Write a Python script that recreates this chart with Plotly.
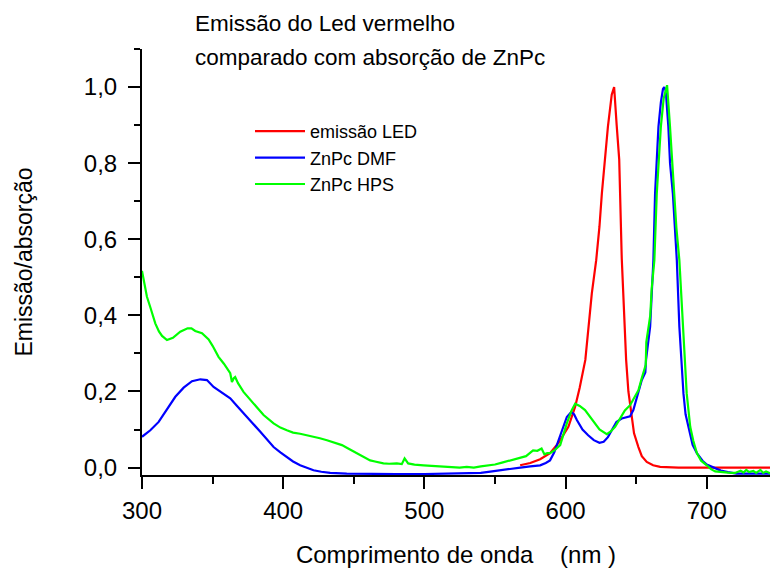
import plotly.graph_objects as go

# ---- data ----
led_nm = [567.8, 575, 582, 589, 595, 602, 606.8, 610, 614, 616.2, 618.6, 621.7, 624, 625.7, 628, 630,
          632.7, 634.4, 636.2, 638, 639.8, 641.5, 642.9, 644.5, 646.9, 648.5, 651.6, 654, 657.5, 662,
          667, 680, 700, 745]
led_val = [0.006, 0.012, 0.022, 0.038, 0.065, 0.107, 0.16, 0.21, 0.283, 0.37, 0.458, 0.545, 0.633, 0.72,
           0.81, 0.896, 0.98, 1.0, 0.9, 0.81, 0.55, 0.38, 0.283, 0.2, 0.133, 0.09, 0.054, 0.03, 0.015,
           0.006, 0.002, 0.0, 0.0, 0.0]

dmf_nm = [300, 305.9, 311.8, 317.7, 323.6, 329.5, 335.4, 341.3, 346, 350.7, 356, 362.5, 367, 371.9, 378,
          383.8, 388, 393.2, 398, 402.6, 407, 412, 416, 421.5, 427, 433.3, 445, 460, 480, 500, 520, 540,
          548, 555, 562, 568, 575, 582, 586, 589, 592, 596.2, 600.9, 604, 606, 608, 612, 616, 620, 624,
          627, 630, 633, 636, 639.8, 643, 645.7, 648, 651.6, 654, 656.5, 657, 659.9, 661, 662.2, 663.4,
          664.5, 665.8, 667.5, 669, 669.9, 671, 672.8, 674, 676, 677.5, 678.8, 680.6, 682, 683.5, 685,
          687, 690, 693, 697, 700, 704.7, 710, 715, 721, 730, 745]
dmf_val = [0.081, 0.098, 0.12, 0.153, 0.186, 0.21, 0.227, 0.232, 0.23, 0.212, 0.198, 0.182, 0.163, 0.142,
           0.118, 0.094, 0.075, 0.054, 0.04, 0.028, 0.016, 0.006, 0.0, -0.007, -0.011, -0.014, -0.016,
           -0.017, -0.017, -0.017, -0.016, -0.014, -0.01, -0.006, -0.002, 0.0, 0.003, 0.006, 0.012,
           0.019, 0.04, 0.085, 0.133, 0.146, 0.14, 0.125, 0.1, 0.085, 0.072, 0.065, 0.068, 0.08, 0.1,
           0.12, 0.129, 0.132, 0.135, 0.151, 0.195, 0.23, 0.25, 0.283, 0.37, 0.45, 0.545, 0.72, 0.8,
           0.896, 0.96, 0.995, 1.0, 0.99, 0.896, 0.8, 0.72, 0.63, 0.545, 0.37, 0.28, 0.195, 0.14,
           0.107, 0.06, 0.038, 0.018, 0.008, 0.0, -0.008, -0.012, -0.016, -0.016, -0.016]

hps_nm = [300, 303.5, 306, 309.4, 312, 314.2, 317.7, 321.9, 327.1, 332.3, 335, 337.7, 342.5, 347.2, 350,
          354.2, 358, 361.3, 362.5, 363.7, 365, 366, 368, 371.9, 379, 386.1, 393.2, 398, 402.6, 407,
          412, 417, 421.5, 426, 431, 436, 441.6, 447, 452.2, 457, 461.6, 465, 468, 471, 475, 480.5,
          484, 486, 488.5, 493, 499.4, 505, 510, 518.3, 525, 530, 535, 540, 545, 550, 555, 560, 565,
          568, 572, 577, 580, 583, 585, 587, 589, 592, 596.2, 600.9, 604.4, 606.8, 610, 613.8, 619.7,
          624, 629.2, 632, 635.1, 639.8, 642, 645.7, 648, 651.6, 654, 656.8, 657.2, 659, 660, 661,
          662.9, 664.6, 666, 667.5, 669.5, 671.9, 673.9, 676.7, 678.5, 680.6, 682, 683.5, 685.8,
          688.3, 690.5, 693, 696, 700, 703, 706, 710, 715, 720, 722, 724, 726, 728, 730, 733, 735,
          738, 740, 742, 745]
hps_val = [0.517, 0.449, 0.42, 0.379, 0.358, 0.346, 0.335, 0.341, 0.357, 0.366, 0.366, 0.359, 0.353,
           0.337, 0.32, 0.291, 0.273, 0.256, 0.248, 0.225, 0.235, 0.238, 0.222, 0.199, 0.168, 0.138,
           0.116, 0.105, 0.098, 0.092, 0.089, 0.085, 0.082, 0.077, 0.072, 0.066, 0.059, 0.048, 0.037,
           0.027, 0.019, 0.016, 0.013, 0.011, 0.01, 0.011, 0.009, 0.024, 0.011, 0.008, 0.006, 0.005,
           0.004, 0.002, 0.0, 0.002, 0.0, 0.003, 0.006, 0.008, 0.013, 0.018, 0.022, 0.024, 0.03,
           0.045, 0.044, 0.05, 0.035, 0.038, 0.038, 0.045, 0.059, 0.116, 0.151, 0.168, 0.162, 0.151,
           0.12, 0.1, 0.088, 0.095, 0.107, 0.138, 0.15, 0.164, 0.18, 0.203, 0.235, 0.27, 0.33, 0.37,
           0.4, 0.47, 0.545, 0.72, 0.82, 0.896, 0.97, 1.005, 0.9, 0.72, 0.63, 0.545, 0.45, 0.37,
           0.195, 0.107, 0.07, 0.038, 0.018, 0.006, -0.004, -0.01, -0.012, -0.013, -0.014, -0.012,
           -0.008, -0.013, -0.006, -0.012, -0.009, -0.014, -0.006, -0.014, -0.01, -0.015]

series_names = ["emissão LED", "ZnPc DMF", "ZnPc HPS"]
series_colors = ["#ff0000", "#0000ff", "#00ff00"]

x_ticks = [300, 400, 500, 600, 700]
y_ticks = [0.0, 0.2, 0.4, 0.6, 0.8, 1.0]

title_lines = ["Emissão do Led vermelho", "comparado com absorção de ZnPc"]
x_title = "Comprimento de onda\u00a0\u00a0\u00a0\u00a0(nm )"
y_title = "Emissão/absorção"

FONT = "Liberation Sans, Arial, sans-serif"

fig = go.Figure()
for nm, val, name, color in zip([led_nm, dmf_nm, hps_nm], [led_val, dmf_val, hps_val],
                                series_names, series_colors):
    fig.add_trace(go.Scatter(x=nm, y=val, mode="lines", name=name,
                             line=dict(color=color, width=2.2)))

W, H = 770, 568
ml, mr, mt, mb = 142, 0, 49, 93
plot_w = W - ml - mr
plot_h = H - mt - mb

fig.update_layout(
    width=W, height=H,
    margin=dict(l=ml, r=mr, t=mt, b=mb, pad=0, autoexpand=False),
    paper_bgcolor="white", plot_bgcolor="white",
    separators=",.",
    font=dict(family=FONT, color="black"),
    showlegend=True,
    legend=dict(x=(250 - ml) / plot_w, y=1 - (113 - mt) / plot_h, xanchor="left", yanchor="top",
                font=dict(size=18, family=FONT), bgcolor="rgba(0,0,0,0)",
                tracegroupgap=0, itemwidth=50),
    xaxis=dict(range=[300, 744.8], showgrid=False, zeroline=False, automargin=False,
               showline=True, linecolor="black", linewidth=2,
               ticks="outside", tickvals=x_ticks, ticklen=12, tickwidth=2, tickcolor="black",
               minor=dict(dtick=50, tick0=0, ticks="outside", ticklen=7, tickwidth=2, tickcolor="black"),
               tickfont=dict(size=24, family=FONT), ticklabelstandoff=1,
               title=dict(text=x_title, font=dict(size=24, family=FONT), standoff=26)),
    yaxis=dict(range=[-0.0195, 1.1], showgrid=False, zeroline=False, automargin=False,
               showline=True, linecolor="black", linewidth=2,
               ticks="outside", tickvals=y_ticks, tickformat=".1f", ticklen=12, tickwidth=2,
               tickcolor="black",
               minor=dict(dtick=0.1, tick0=0, ticks="outside", ticklen=6, tickwidth=2, tickcolor="black"),
               tickfont=dict(size=24, family=FONT), ticklabelstandoff=6,
               title=dict(text=y_title, font=dict(size=23, family=FONT), standoff=45)),
)

for line, ypx in zip(title_lines, [24, 58]):
    fig.add_annotation(xref="paper", yref="paper",
                       x=(193 - ml) / plot_w, y=1 - (ypx - mt) / plot_h,
                       xanchor="left", yanchor="middle", showarrow=False,
                       text=line, font=dict(size=22.5, family=FONT, color="black"))

fig.write_html("out.html", config={"displayModeBar": False},
               post_script="document.body.style.margin='0';document.body.style.overflow='hidden';")
